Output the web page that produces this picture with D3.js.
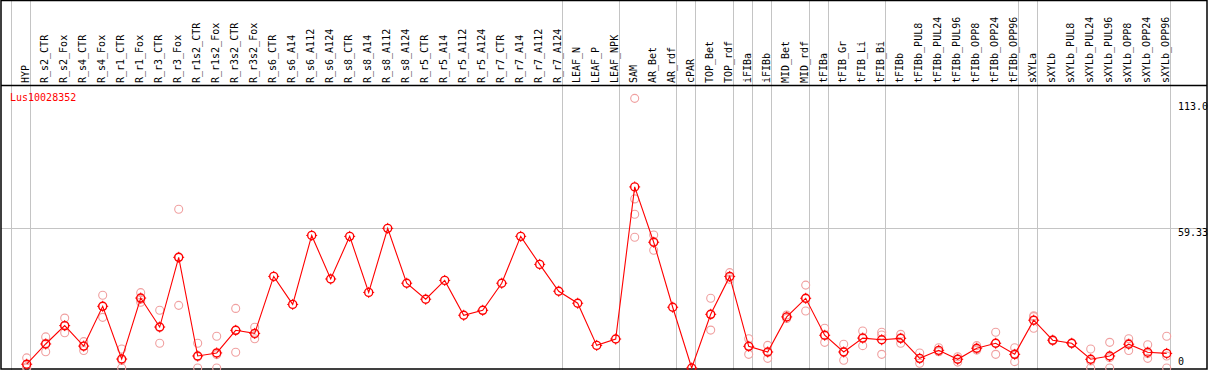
<!DOCTYPE html>
<html><head><meta charset="utf-8">
<script src="https://cdn.jsdelivr.net/npm/d3@7"></script>
<style>body{margin:0;background:#fff}svg{display:block}text{font-family:"DejaVu Sans Mono",monospace;font-size:10px}</style>
</head><body><svg id="c" width="1209" height="370"></svg>
<script>
const categories = ["HYP","R_s2_CTR","R_s2_Fox","R_s4_CTR","R_s4_Fox","R_r1_CTR","R_r1_Fox","R_r3_CTR","R_r3_Fox","R_r1s2_CTR","R_r1s2_Fox","R_r3s2_CTR","R_r3s2_Fox","R_s6_CTR","R_s6_A14","R_s6_A112","R_s6_A124","R_s8_CTR","R_s8_A14","R_s8_A112","R_s8_A124","R_r5_CTR","R_r5_A14","R_r5_A112","R_r5_A124","R_r7_CTR","R_r7_A14","R_r7_A112","R_r7_A124","LEAF_N","LEAF_P","LEAF_NPK","SAM","AR_Bet","AR_rdf","cPAR","TOP_Bet","TOP_rdf","iFIBa","iFIBb","MID_Bet","MID_rdf","tFIBa","tFIB_Gr","tFIB_Li","tFIB_Bi","tFIBb","tFIBb_PUL8","tFIBb_PUL24","tFIBb_PUL96","tFIBb_OPP8","tFIBb_OPP24","tFIBb_OPP96","sXYLa","sXYLb","sXYLb_PUL8","sXYLb_PUL24","sXYLb_PUL96","sXYLb_OPP8","sXYLb_OPP24","sXYLb_OPP96"];
const means = [1.6,10.2,18.0,9.3,26.2,3.8,29.7,17.4,47.0,5.1,6.4,16.0,14.7,38.9,27.0,56.3,37.8,55.9,32.1,59.3,36.0,29.2,37.2,22.4,24.5,36.0,55.9,44.0,32.6,27.5,9.6,12.3,76.9,53.4,25.8,0,22.8,38.9,9.2,6.8,21.7,29.6,13.9,6.8,12.7,12.0,12.6,4.1,7.5,3.7,8.4,10.5,5.8,20.3,11.8,10.5,3.7,5.1,10.1,6.7,6.2];
const replicates = [[4.3,0.5,0],[13.2,6.9,10.5],[21.2,15.0,17.8],[11.2,7.4,9.3],[30.9,21.5,26.2],[8.1,0,3.3],[32.0,27.9,29.2],[24.5,10.5,17.2],[67.4,26.6,47.0],[10.5,0,4.8],[13.5,0,5.7],[25.3,6.7,16.0],[17.3,12.4,14.4],[],[],[],[],[],[],[],[],[],[],[],[],[],[],[],[],[],[],[],[114.5,71.8,65.3,55.5],[56.5,50.0,53.7],[],[],[29.6,16.1,22.7],[40.5,37.7,38.5],[12.4,5.8,9.4],[9.6,4.1,6.7],[22.5,21.0,21.6],[35.2,24.2,29.4],[16.9,10.9,13.9],[10.1,3.3,7.0],[15.7,9.5,12.9],[15.2,14.0,5.8],[14.3,10.5,12.9],[6.4,2.0,3.9],[8.6,7.0,6.9],[4.8,2.5,3.8],[9.5,7.6,8.1],[15.2,5.8,10.5],[8.6,2.7,6.1],[22.2,16.9,21.8],[11.9,11.6,11.9],[10.6,10.4,10.5],[8.1,0,3.0],[10.9,0,4.4],[12.4,7.4,10.5],[9.9,4.1,6.1],[13.5,0,5.1]];
const groupStarts = ["HYP","R_s2_CTR","LEAF_N","SAM","cPAR","TOP_Bet","iFIBa","iFIBb","MID_Bet","tFIBa","tFIB_Gr","tFIBb","sXYLa","sXYLb"];
const tickValues = [0,59.33,113];
const tickLabels = ["0","59.33","113.0"];
const geneName = "Lus10028352";

const svg = d3.select("#c");
const W = 1209, H = 370;
const x = d3.scaleBand().domain(categories).range([11, 1170]).padding(0);
const px = c => x(c) + 15.7;
const y = d3.scaleLinear().domain([0, 113]).range([368, 101.9]);
const crisp = v => Math.round(v) + 0.5;
const grey = "#c4c4c4";

const seps = groupStarts.map(c => x(c)).concat([x.range()[1]]);
svg.append("g").selectAll("line").data(seps).join("line")
  .attr("x1", d => crisp(d)).attr("x2", d => crisp(d))
  .attr("y1", 0).attr("y2", H).attr("stroke", grey).attr("stroke-width", 1);

svg.append("line").attr("x1", 1).attr("x2", 1207)
  .attr("y1", crisp(y(59.33))).attr("y2", crisp(y(59.33)))
  .attr("stroke", grey).attr("stroke-width", 1);

svg.append("rect").attr("x", 1).attr("y", 0.5).attr("width", 1206).attr("height", 368.5)
  .attr("fill", "none").attr("stroke", "#000").attr("stroke-width", 1.5);
svg.append("line").attr("x1", 1).attr("x2", 1207).attr("y1", 85.5).attr("y2", 85.5)
  .attr("stroke", "#000").attr("stroke-width", 1.5);

svg.append("g").selectAll("text").data(categories).join("text")
  .attr("transform", c => `translate(${px(c) + 2},83) rotate(-90)`)
  .attr("fill", "#000").text(c => c);

svg.append("g").selectAll("text").data(tickValues).join("text")
  .attr("x", 1178)
  .attr("y", (d, i) => i === 0 ? 365 : y(d) + 8)
  .attr("fill", "#000").text((d, i) => tickLabels[i]);

svg.append("text").attr("x", 10).attr("y", 101).attr("fill", "#ff0000").text(geneName);

const repPts = [];
replicates.forEach((arr, i) => arr.forEach(v => repPts.push({c: categories[i], v})));
svg.append("g").selectAll("circle").data(repPts).join("circle")
  .attr("cx", d => px(d.c)).attr("cy", d => y(d.v)).attr("r", 4)
  .attr("fill", "none").attr("stroke", "#f0a0a0").attr("stroke-width", 1.1);

svg.append("path").datum(means)
  .attr("d", d3.line().x((d, i) => px(categories[i])).y(d => y(d)))
  .attr("fill", "none").attr("stroke", "#ff0000").attr("stroke-width", 1.1);

const mg = svg.append("g").selectAll("g").data(means).join("g")
  .attr("transform", (d, i) => `translate(${px(categories[i])},${y(d)})`);
mg.append("circle").attr("r", 4).attr("fill", "none").attr("stroke", "#ff0000").attr("stroke-width", 1.4);
[[0,-1],[0,1],[-1,0],[1,0]].forEach(([dx, dy]) => {
  mg.append("line").attr("x1", dx*4).attr("y1", dy*4).attr("x2", dx*5.5).attr("y2", dy*5.5)
    .attr("stroke", "#ff0000").attr("stroke-width", 1);
});
</script></body></html>
